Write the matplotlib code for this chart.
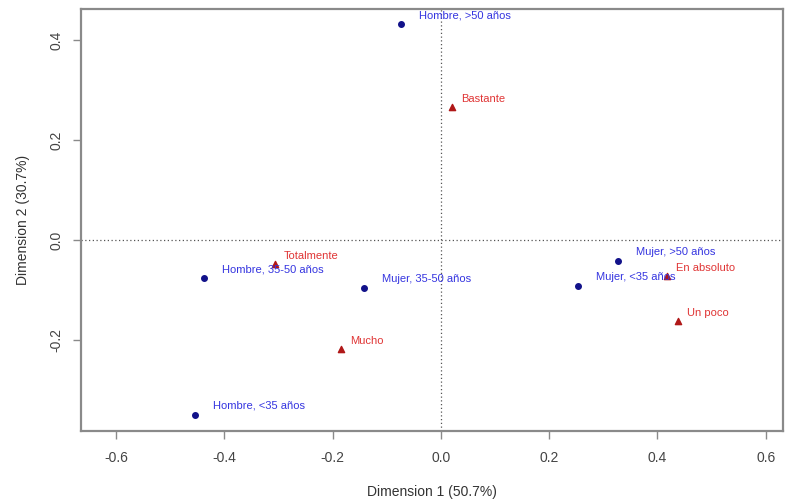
import matplotlib
matplotlib.use("Agg")
import matplotlib.pyplot as plt

# Row categories (blue circles)
row_labels = ["Hombre, >50 años", "Hombre, 35-50 años", "Hombre, <35 años",
              "Mujer, >50 años", "Mujer, 35-50 años", "Mujer, <35 años"]
row_dim1 = [-0.074, -0.438, -0.454, 0.327, -0.142, 0.253]
row_dim2 = [0.432, -0.076, -0.350, -0.042, -0.096, -0.092]

# Column categories (red triangles)
col_labels = ["Bastante", "Totalmente", "Mucho", "En absoluto", "Un poco"]
col_dim1 = [0.020, -0.307, -0.185, 0.417, 0.438]
col_dim2 = [0.266, -0.048, -0.218, -0.072, -0.162]

xticks = [-0.6, -0.4, -0.2, 0.0, 0.2, 0.4, 0.6]
yticks = [-0.2, 0.0, 0.2, 0.4]
xlabel = "Dimension 1 (50.7%)"
ylabel = "Dimension 2 (30.7%)"

plt.rcParams['font.family'] = ['Liberation Sans', 'DejaVu Sans']

fig = plt.figure(figsize=(7.85, 5.04), dpi=100)
ax = fig.add_axes([81/785, 73/504, (783-81)/785, (431-9)/504])

ax.axhline(0, color="#555555", linestyle=(0, (1, 2)), linewidth=0.9, zorder=1)
ax.axvline(0, color="#555555", linestyle=(0, (1, 2)), linewidth=0.9, zorder=1)

ax.scatter(row_dim1, row_dim2, marker="o", s=16, color="#12128a", zorder=3)
ax.scatter(col_dim1, col_dim2, marker="^", s=20, color="#b01818", zorder=3)

for lab, x, y in zip(row_labels, row_dim1, row_dim2):
    ax.annotate(lab, (x, y), xytext=(18, 9), textcoords="offset pixels",
                fontsize=8, color="#3535e0", va="center", ha="left", zorder=4)
for lab, x, y in zip(col_labels, col_dim1, col_dim2):
    ax.annotate(lab, (x, y), xytext=(9, 8), textcoords="offset pixels",
                fontsize=8, color="#e03535", va="center", ha="left", zorder=4)

ax.set_xlim(-0.665, 0.632)
ax.set_ylim(-0.382, 0.462)
ax.set_xticks(xticks)
ax.set_xticklabels([f"{t:.1f}" for t in xticks])
ax.set_yticks(yticks)
ax.set_yticklabels([f"{t:.1f}" for t in yticks], rotation=90, va="center")

for s in ax.spines.values():
    s.set_color("#8a8a8a")
    s.set_linewidth(1.6)
ax.tick_params(axis="both", direction="out", length=5.5, width=1.0,
               color="#8a8a8a", labelcolor="#444444", labelsize=10, pad=7)
ax.tick_params(axis="x", pad=9)

ax.set_xlabel(xlabel, fontsize=10, color="#333333", labelpad=14)
ax.set_ylabel(ylabel, fontsize=10, color="#333333", labelpad=14)

fig.savefig("out.png", dpi=100)
